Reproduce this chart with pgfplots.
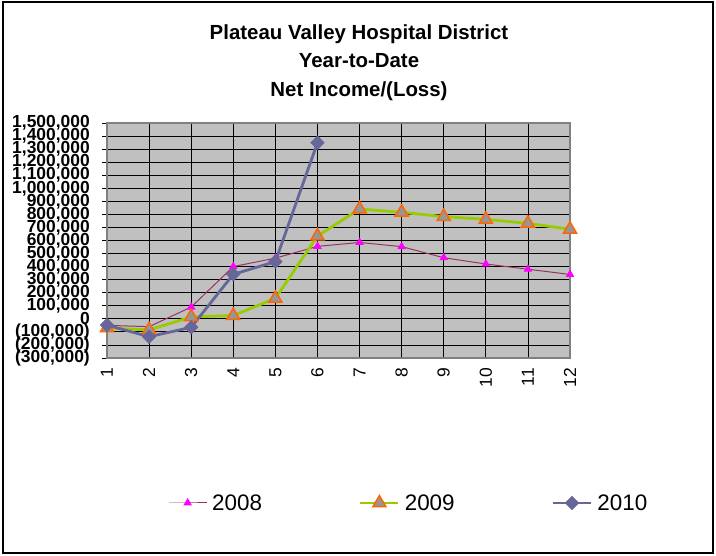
\documentclass[border=0pt]{standalone}
\usepackage{pgfplots}
\pgfplotsset{compat=1.18}
\usepackage{fontspec}
\setmainfont{Liberation Sans}
\definecolor{c08line}{HTML}{993366}
\definecolor{c08mark}{HTML}{FF00FF}
\definecolor{c09line}{HTML}{99CC00}
\definecolor{c09fill}{HTML}{969696}
\definecolor{c09edge}{HTML}{FF6600}
\definecolor{c10}{HTML}{666699}
\definecolor{plotbg}{HTML}{C0C0C0}
\begin{document}
\begin{tikzpicture}
\path[use as bounding box] (0bp,0bp) rectangle (716bp,556bp);
\draw[line width=1.5bp, black] (3bp,3bp) rectangle (713bp,554bp);
\node[anchor=base, font=\fontsize{20.5}{24}\selectfont\bfseries] at (359bp,516bp) {Plateau Valley Hospital District};
\node[anchor=base, font=\fontsize{20.5}{24}\selectfont\bfseries] at (359bp,488bp) {Year-to-Date};
\node[anchor=base, font=\fontsize{20.5}{24}\selectfont\bfseries] at (359bp,459bp) {Net Income/(Loss)};
\begin{axis}[
  at={(107bp,198bp)}, anchor=south west,
  scale only axis, width=463bp, height=235bp,
  xmin=1, xmax=12, ymin=-300000, ymax=1500000,
  axis background/.style={fill=plotbg},
  axis line style={draw=gray, line width=1.2bp},
  grid=major, major grid style={black, line width=0.8bp},
  xtick={1,...,12},
  xticklabels={1,2,3,4,5,6,7,8,9,10,11,12},
  ytick={-300000,-200000,...,1500000},
  yticklabels={{(300,000)},{(200,000)},{(100,000)},0,{100,000},{200,000},{300,000},{400,000},{500,000},{600,000},{700,000},{800,000},{900,000},{1,000,000},{1,100,000},{1,200,000},{1,300,000},{1,400,000},{1,500,000}},
  scaled ticks=false,
  tick style={black, line width=0.8bp},
  ytick align=outside, ytick pos=left,
  xtick pos=bottom, xtick style={draw=none},
  major tick length=5bp,
  yticklabel style={font=\fontsize{17.5}{17.5}\selectfont\bfseries, anchor=east, inner sep=0pt, xshift=-12bp},
  xticklabel style={yshift=-10bp, font=\fontsize{17.5}{17.5}\selectfont, rotate=90, anchor=east, inner sep=0pt},
  legend columns=3,
  legend style={at={(0.1317,-0.617)}, anchor=west, draw=none, fill=none, inner sep=0pt,
    font=\fontsize{22.5}{22.5}\selectfont,
    /tikz/every even column/.append style={column sep=95bp},
    /tikz/every odd column/.append style={column sep=3bp}},
  legend cell align=left,
  legend image code/.code={\draw[mark repeat=2,mark phase=2,#1] plot coordinates {(0bp,0bp)(19bp,0bp)(38bp,0bp)};},
]
\draw[black, line width=1bp] (axis cs:1,0) -- (axis cs:12,0);
\addplot[c08line, line width=1bp, mark=triangle*, mark size=4bp, mark options={fill=c08mark, draw=c08mark}]
  coordinates {(1,-50000)(2,-60000)(3,90000)(4,400000)(5,465000)(6,555000)(7,585000)(8,553000)(9,468000)(10,420000)(11,380000)(12,340000)};
\addlegendentry{2008}
\addplot[c09line, line width=2.8bp, mark=triangle*, mark size=7.5bp, mark options={fill=c09fill, draw=c09edge, line width=1.5bp}]
  coordinates {(1,-70000)(2,-85000)(3,15000)(4,25000)(5,157000)(6,634000)(7,841000)(8,816000)(9,783000)(10,762000)(11,731000)(12,686000)};
\addlegendentry{2009}
\addplot[c10, line width=2.8bp, mark=square*, mark size=4.8bp, mark options={fill=c10, draw=c10, rotate=45, line width=0.5bp}]
  coordinates {(1,-48000)(2,-137000)(3,-65000)(4,341000)(5,438000)(6,1349000)};
\addlegendentry{2010}
\end{axis}
\end{tikzpicture}
\end{document}
